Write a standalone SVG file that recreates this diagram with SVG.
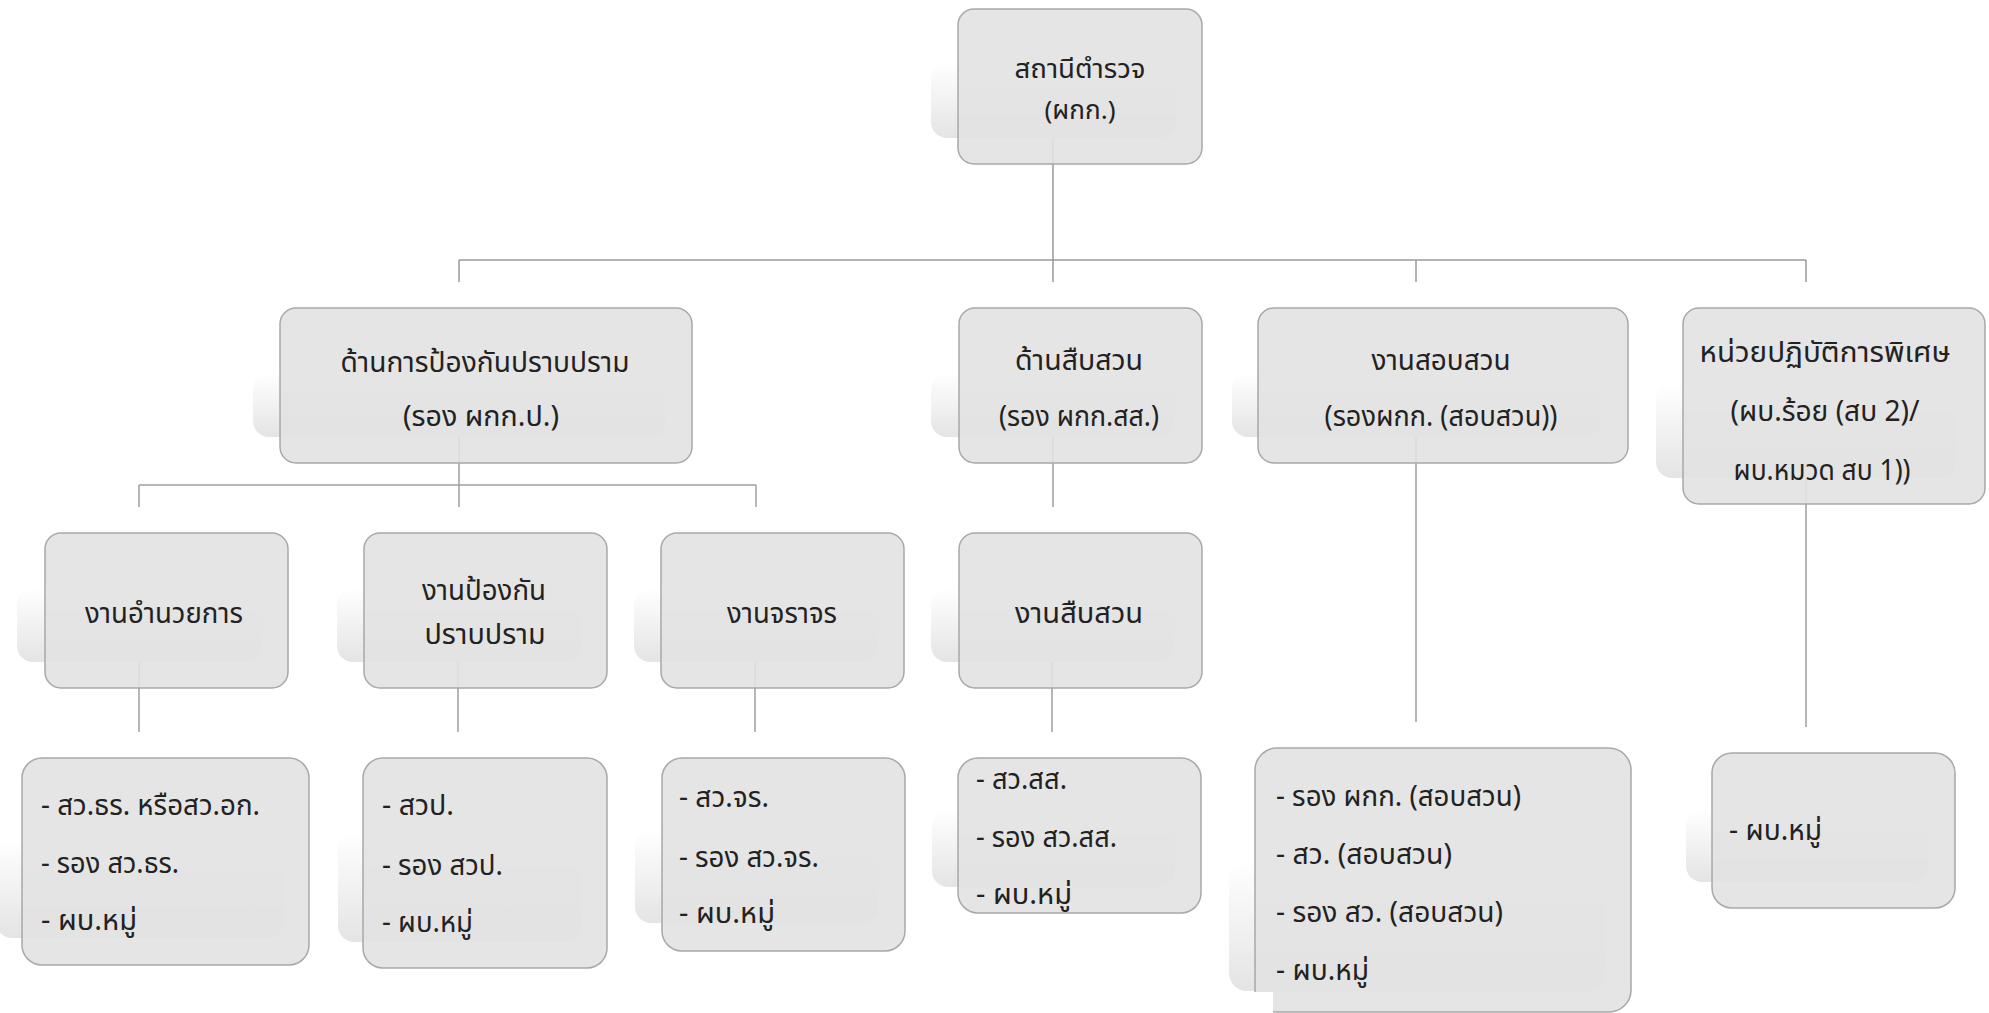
<svg xmlns="http://www.w3.org/2000/svg" width="1989" height="1013" viewBox="0 0 1989 1013">
<defs>
<linearGradient id="sh" x1="0" y1="0" x2="0" y2="1">
<stop offset="0" stop-color="#ffffff"/>
<stop offset="1" stop-color="#e4e4e4"/>
</linearGradient>
<style>
.sh{fill:url(#sh);}
.bx{fill:#e2e2e2;fill-opacity:0.9;stroke:#a8a8a8;stroke-width:1.5;}
.t{font-family:"Noto Sans Thai","Noto Sans","DejaVu Sans",sans-serif;font-size:29px;fill:#222222;}
.s{font-size:26px;}
.c{text-anchor:middle;}
.ln{stroke:#a0a0a0;stroke-width:1.5;fill:none;}
</style>
</defs>
<rect width="1989" height="1013" fill="#ffffff"/>
<g id="connectors">
<path class="ln" d="M1053 138V282M459 260H1806M459 260V282M1416 260V282M1806 260V282" style="stroke:#999"/>
<path class="ln" d="M459 437V485M139 485H756M139 485V507M459 485V507M756 485V507M1053 437V507"/>
<path class="ln" d="M139 662V732M458 662V732M755 662V732M1052 662V732M1416 437V722M1806 478V727"/>
</g>
<g id="n0">
<rect class="sh" x="931" y="63" width="246" height="75" rx="16"/>
<rect class="bx" x="958" y="9" width="244" height="155" rx="16"/>
<text class="t s c" x="1080" y="78" textLength="131" lengthAdjust="spacingAndGlyphs">สถานีตำรวจ</text>
<text class="t s c" x="1080" y="119" textLength="71" lengthAdjust="spacingAndGlyphs">(ผกก.)</text>
</g>
<g id="nA">
<rect class="sh" x="253" y="373" width="413" height="64" rx="16"/>
<rect class="bx" x="280" y="308" width="412" height="155" rx="16"/>
<text class="t c" x="485" y="372" textLength="289" lengthAdjust="spacingAndGlyphs">ด้านการป้องกันปราบปราม</text>
<text class="t c" x="481" y="426" textLength="156" lengthAdjust="spacingAndGlyphs">(รอง ผกก.ป.)</text>
</g>
<g id="nB">
<rect class="sh" x="931" y="373" width="243" height="64" rx="16"/>
<rect class="bx" x="959" y="308" width="243" height="155" rx="16"/>
<text class="t c" x="1079" y="370" textLength="128" lengthAdjust="spacingAndGlyphs">ด้านสืบสวน</text>
<text class="t c" x="1079" y="426" textLength="160" lengthAdjust="spacingAndGlyphs">(รอง ผกก.สส.)</text>
</g>
<g id="nC">
<rect class="sh" x="1232" y="373" width="369" height="64" rx="16"/>
<rect class="bx" x="1258" y="308" width="370" height="155" rx="16"/>
<text class="t c" x="1441" y="370" textLength="139" lengthAdjust="spacingAndGlyphs">งานสอบสวน</text>
<text class="t c" x="1441" y="426" textLength="233" lengthAdjust="spacingAndGlyphs">(รองผกก. (สอบสวน))</text>
</g>
<g id="nD">
<rect class="sh" x="1656" y="383" width="300" height="95" rx="16"/>
<rect class="bx" x="1683" y="308" width="302" height="196" rx="16"/>
<text class="t c" x="1825" y="362" textLength="251" lengthAdjust="spacingAndGlyphs">หน่วยปฏิบัติการพิเศษ</text>
<text class="t c" x="1825" y="421" textLength="189" lengthAdjust="spacingAndGlyphs">(ผบ.ร้อย (สบ 2)/</text>
<text class="t c" x="1822" y="480" textLength="177" lengthAdjust="spacingAndGlyphs">ผบ.หมวด สบ 1))</text>
</g>
<g id="nE">
<rect class="sh" x="17" y="588" width="245" height="74" rx="16"/>
<rect class="bx" x="45" y="533" width="243" height="155" rx="16"/>
<text class="t c" x="164" y="623" textLength="158" lengthAdjust="spacingAndGlyphs">งานอำนวยการ</text>
</g>
<g id="nF">
<rect class="sh" x="337" y="588" width="244" height="74" rx="16"/>
<rect class="bx" x="364" y="533" width="243" height="155" rx="16"/>
<text class="t c" x="484" y="600" textLength="124" lengthAdjust="spacingAndGlyphs">งานป้องกัน</text>
<text class="t c" x="485" y="644" textLength="121" lengthAdjust="spacingAndGlyphs">ปราบปราม</text>
</g>
<g id="nG">
<rect class="sh" x="634" y="588" width="244" height="74" rx="16"/>
<rect class="bx" x="661" y="533" width="243" height="155" rx="16"/>
<text class="t c" x="782" y="623" textLength="110" lengthAdjust="spacingAndGlyphs">งานจราจร</text>
</g>
<g id="nH">
<rect class="sh" x="931" y="588" width="243" height="74" rx="16"/>
<rect class="bx" x="959" y="533" width="243" height="155" rx="16"/>
<text class="t c" x="1079" y="623" textLength="128" lengthAdjust="spacingAndGlyphs">งานสืบสวน</text>
</g>
<g id="nI">
<rect class="sh" x="-4" y="840" width="288" height="98" rx="16"/>
<rect class="bx" x="22" y="758" width="287" height="207" rx="20"/>
<text class="t" x="41" y="815" textLength="219" lengthAdjust="spacingAndGlyphs">- สว.ธร. หรือสว.อก.</text>
<text class="t" x="41" y="873" textLength="138" lengthAdjust="spacingAndGlyphs">- รอง สว.ธร.</text>
<text class="t" x="41" y="930" textLength="96" lengthAdjust="spacingAndGlyphs">- ผบ.หมู่</text>
</g>
<g id="nJ">
<rect class="sh" x="338" y="832" width="243" height="110" rx="16"/>
<rect class="bx" x="363" y="758" width="244" height="210" rx="20"/>
<text class="t" x="382" y="815" textLength="72" lengthAdjust="spacingAndGlyphs">- สวป.</text>
<text class="t" x="382" y="875" textLength="121" lengthAdjust="spacingAndGlyphs">- รอง สวป.</text>
<text class="t" x="382" y="932" textLength="91" lengthAdjust="spacingAndGlyphs">- ผบ.หมู่</text>
</g>
<g id="nK">
<rect class="sh" x="635" y="830" width="243" height="93" rx="16"/>
<rect class="bx" x="662" y="758" width="243" height="193" rx="20"/>
<text class="t" x="679" y="807" textLength="90" lengthAdjust="spacingAndGlyphs">- สว.จร.</text>
<text class="t" x="679" y="867" textLength="140" lengthAdjust="spacingAndGlyphs">- รอง สว.จร.</text>
<text class="t" x="679" y="923" textLength="96" lengthAdjust="spacingAndGlyphs">- ผบ.หมู่</text>
</g>
<g id="nL">
<rect class="sh" x="932" y="810" width="243" height="77" rx="16"/>
<rect class="bx" x="958" y="758" width="243" height="155" rx="20"/>
<text class="t" x="976" y="789" textLength="91" lengthAdjust="spacingAndGlyphs">- สว.สส.</text>
<text class="t" x="976" y="847" textLength="141" lengthAdjust="spacingAndGlyphs">- รอง สว.สส.</text>
<text class="t" x="976" y="904" textLength="96" lengthAdjust="spacingAndGlyphs">- ผบ.หมู่</text>
</g>
<g id="nM">
<rect class="sh" x="1229" y="860" width="376" height="131" rx="18"/>
<rect class="bx" x="1255" y="748" width="376" height="264" rx="22"/>
<rect x="1253" y="992" width="20" height="22" fill="#ffffff"/>
<text class="t" x="1276" y="806" textLength="245" lengthAdjust="spacingAndGlyphs">- รอง ผกก. (สอบสวน)</text>
<text class="t" x="1276" y="864" textLength="176" lengthAdjust="spacingAndGlyphs">- สว. (สอบสวน)</text>
<text class="t" x="1276" y="922" textLength="227" lengthAdjust="spacingAndGlyphs">- รอง สว. (สอบสวน)</text>
<text class="t" x="1276" y="980" textLength="93" lengthAdjust="spacingAndGlyphs">- ผบ.หมู่</text>
</g>
<g id="nN">
<rect class="sh" x="1686" y="810" width="242" height="72" rx="16"/>
<rect class="bx" x="1712" y="753" width="243" height="155" rx="20"/>
<text class="t" x="1729" y="840" textLength="93" lengthAdjust="spacingAndGlyphs">- ผบ.หมู่</text>
</g>
</svg>
